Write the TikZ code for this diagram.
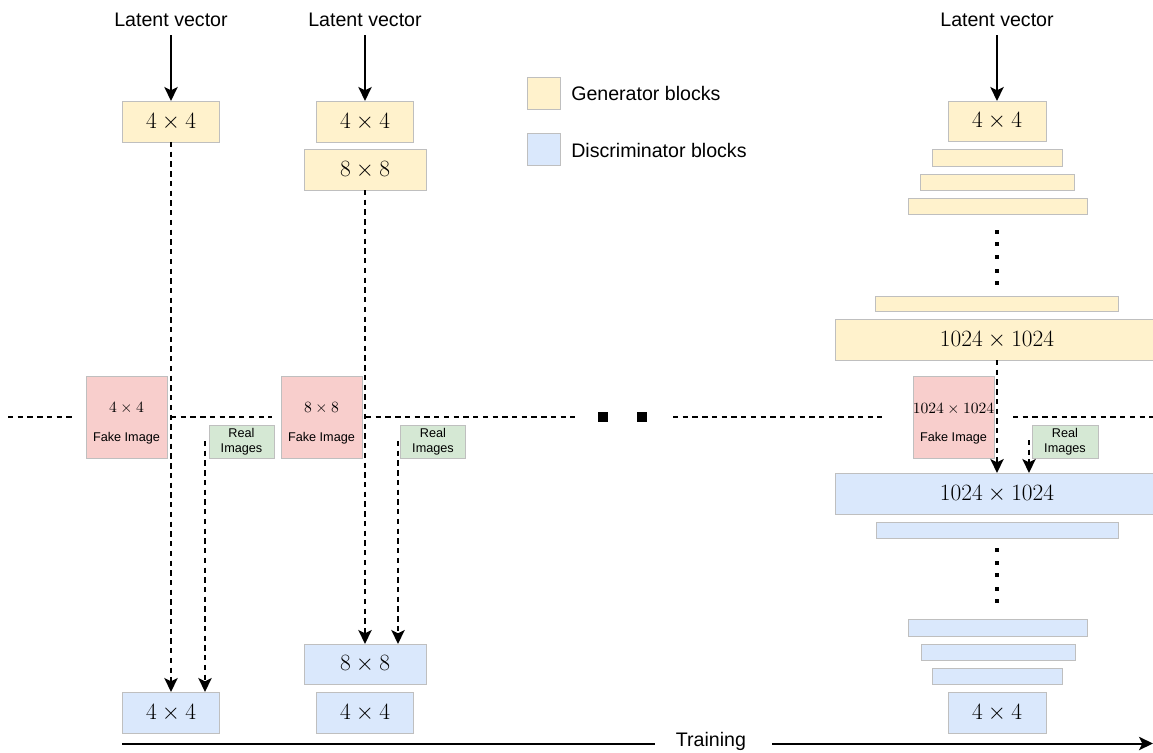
\documentclass[tikz,border=0pt]{standalone}
\usepackage{fix-cm}
\usepackage{fontspec}
\setmainfont{Liberation Sans}
\usetikzlibrary{arrows.meta}

\definecolor{genfill}{HTML}{FFF2CC}
\definecolor{discfill}{HTML}{DAE8FC}
\definecolor{fakefill}{HTML}{F8CECC}
\definecolor{realfill}{HTML}{D5E8D4}
\definecolor{edgegray}{HTML}{BFBFBF}

\tikzset{
  % box size given in drawing units (1 unit = 0.75pt)
  wh/.style 2 args={minimum width=#1*0.75pt, minimum height=#2*0.75pt},
  block/.style={draw=edgegray, line width=0.75pt, inner sep=0pt, outer sep=0pt},
  gen/.style={block, fill=genfill},
  disc/.style={block, fill=discfill},
  fake/.style={block, fill=fakefill},
  real/.style={block, fill=realfill},
  bigmath/.style={font=\fontsize{17.5}{20}\selectfont},
  caption/.style={font=\fontsize{14.7}{17}\selectfont, inner sep=0pt},
  small/.style={font=\fontsize{9.5}{11.2}\selectfont, align=center, inner sep=0pt},
  smallmath/.style={font=\fontsize{11.7}{13}\selectfont, inner sep=0pt},
  feed/.style={line width=1.5pt, -{Stealth[length=10.5pt,width=10pt,inset=2.5pt]}},
  dasharrow/.style={feed, dash pattern=on 4pt off 3.3pt},
  sepline/.style={line width=1.5pt, dash pattern=on 4pt off 3.3pt},
  dotmark/.style={fill=black},
}

\begin{document}
\begin{tikzpicture}[x=0.75pt,y=-0.75pt]
\useasboundingbox (0,0) rectangle (1153,753);

% ---------------- legend ----------------
\node[gen, wh={33}{32}] (leggen) at (543.5,93) {};
\node[disc, wh={33}{32}] (legdisc) at (543.5,149) {};
\node[caption, anchor=west] (leggentxt) at (571,93) {Generator blocks};
\node[caption, anchor=west] (legdisctxt) at (571,150) {Discriminator blocks};

% ---------------- stage 1: 4x4 ----------------
\node[caption] (lv1) at (171,20) {Latent vector};
\node[gen, bigmath, wh={97}{41}] (g1) at (171,121.5) {$4\times 4$};
\node[fake, wh={81}{82}] (f1) at (126.5,417) {};
\node[smallmath] (f1a) at (126.5,408.3) {$4\times 4$};
\node[small] (f1b) at (126.5,438.3) {Fake Image};
\node[real, small, wh={65}{33}] (r1box) at (241.5,441.5) {Real\\Images};
\node[disc, bigmath, wh={97}{41}] (d1) at (171,712.5) {$4\times 4$};
\coordinate (r1) at (205,441);

\draw[feed, shorten <=6pt] (lv1) -- (g1);
\draw[dasharrow] (g1.south) -- (d1.north);
\draw[dasharrow] (r1) -- (r1 |- d1.north);

% ---------------- stage 2: 8x8 ----------------
\node[caption] (lv2) at (365,20) {Latent vector};
\node[gen, bigmath, wh={97}{41}] (g2a) at (365,121.5) {$4\times 4$};
\node[gen, bigmath, wh={122}{41}] (g2b) at (365,169.5) {$8\times 8$};
\node[fake, wh={81}{82}] (f2) at (321.5,417) {};
\node[smallmath] (f2a) at (321.5,408.3) {$8\times 8$};
\node[small] (f2b) at (321.5,438.3) {Fake Image};
\node[real, small, wh={65}{33}] (r2box) at (433,441.5) {Real\\Images};
\node[disc, bigmath, wh={122}{40}] (d2b) at (365,664) {$8\times 8$};
\node[disc, bigmath, wh={97}{41}] (d2a) at (365,712.5) {$4\times 4$};
\coordinate (r2) at (398,441);

\draw[feed, shorten <=6pt] (lv2) -- (g2a);
\draw[dasharrow] (g2b.south) -- (d2b.north);
\draw[dasharrow] (r2) -- (r2 |- d2b.north);

% ---------------- final stage: 1024x1024 ----------------
\node[caption] (lv3) at (997,20) {Latent vector};
\node[gen, bigmath, wh={98}{40}] (g3a) at (997,121) {$4\times 4$};
\node[gen, wh={130}{17}] (g3b) at (997,157.5) {};
\node[gen, wh={154}{16}] (g3c) at (997,182) {};
\node[gen, wh={179}{16}] (g3d) at (997.5,206) {};
\foreach \yy in {231.7,244.3,257,270.7,283.3}
  \fill[dotmark] (995,\yy-2) rectangle (999,\yy+2);
\node[gen, wh={243}{15}] (g3e) at (996.5,303.5) {};
\node[gen, bigmath, wh={324}{41}] (g3big) at (997,339.5) {$1024\times 1024$};

\node[fake, wh={81}{82}] (f3) at (953.5,417) {};
\node[smallmath] (f3a) at (953.5,409.3) {$1024\times 1024$};
\node[small] (f3b) at (953.5,438.7) {Fake Image};
\node[real, small, wh={66}{33}] (r3box) at (1065,441.5) {Real\\Images};
\coordinate (r3) at (1029,440);

\node[disc, bigmath, wh={324}{41}] (d3big) at (997,493.5) {$1024\times 1024$};
\node[disc, wh={242}{16}] (d3e) at (997,530) {};
\foreach \yy in {550,562.7,575.3,588.7,601.3}
  \fill[dotmark] (995,\yy-2) rectangle (999,\yy+2);
\node[disc, wh={179}{17}] (d3d) at (997.5,627.5) {};
\node[disc, wh={154}{16}] (d3c) at (998,652) {};
\node[disc, wh={130}{16}] (d3b) at (997,676) {};
\node[disc, bigmath, wh={98}{41}] (d3a) at (997,712.5) {$4\times 4$};

\draw[feed, shorten <=6pt] (lv3) -- (g3a);
\draw[dasharrow] (g3big.south) -- (d3big.north);
\draw[dasharrow] (r3) -- (r3 |- d3big.north);

% ---------------- stage separator ----------------
\draw[sepline] (8,417) -- (72,417);
\draw[sepline] (171,417) -- (272,417);
\draw[sepline] (366,417) -- (575,417);
\fill[dotmark] (598,412) rectangle (608,422);
\fill[dotmark] (637,412) rectangle (647,422);
\draw[sepline] (673,417) -- (882,417);
\draw[sepline] (1013,417) -- (1153,417);

% ---------------- training axis ----------------
\node[caption] (train) at (711,741) {Training};
\coordinate (t0) at (122,743.5);
\coordinate (t1) at (655,743.5);
\coordinate (t2) at (772,743.5);
\coordinate (t3) at (1153,743.5);
\draw[line width=1.5pt] (t0) -- (t1);
\draw[feed] (t2) -- (t3);
\end{tikzpicture}
\end{document}
